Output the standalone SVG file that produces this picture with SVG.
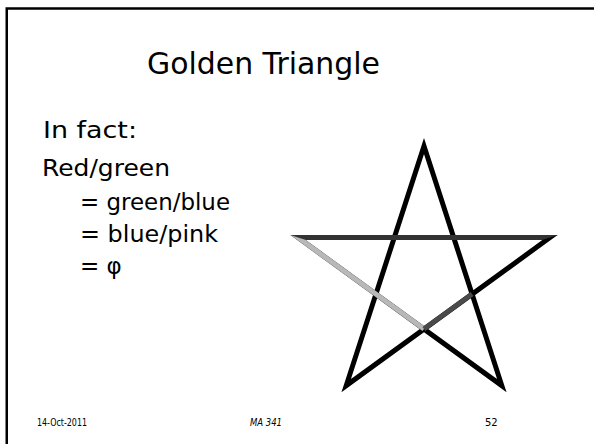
<svg xmlns="http://www.w3.org/2000/svg" width="594" height="444" viewBox="0 0 594 444">
  <style>
    .t { font-family: "DejaVu Sans", "Liberation Sans", sans-serif; fill: #000; }
    .body { font-size: 23px; }
    .foot { font-size: 10px; }
    .star { fill: none; stroke-width: 5; stroke-linejoin: miter; stroke-miterlimit: 10; }
  </style>
  <rect width="594" height="444" fill="#fff"/>
  <g id="border" fill="none" stroke="#000" stroke-width="2.5">
    <path d="M6.75,444 V8.5 H594"/>
  </g>
  <g id="title">
    <text class="t" x="147" y="74" font-size="31" textLength="233" lengthAdjust="spacingAndGlyphs">Golden Triangle</text>
  </g>
  <g id="body-text">
    <text class="t body" x="43" y="138" textLength="94" lengthAdjust="spacingAndGlyphs">In fact:</text>
    <text class="t body" x="42" y="176" textLength="128" lengthAdjust="spacingAndGlyphs">Red/green</text>
    <text class="t body" x="80" y="210" textLength="150" lengthAdjust="spacingAndGlyphs">= green/blue</text>
    <text class="t body" x="80" y="242" textLength="138" lengthAdjust="spacingAndGlyphs">= blue/pink</text>
    <text class="t body" x="80" y="274">= φ</text>
  </g>
  <g id="star">
    <path class="star" stroke="#000" d="M424,146.1 L346.2,385.6 L549.9,237.6 L298.1,237.6 L501.8,385.6 Z"/>
    <path class="star" stroke="#b8b8b8" d="M400,237.6 L298.1,237.6 L424,329.1"/>
    <path class="star" stroke="#4a4a4a" d="M424,329.1 L472.1,294.1"/>
    <polygon fill="#333" points="290.4,235.1 557.6,235.1 542.2,240.1 305.8,240.1"/>
  </g>
  <g id="footer">
    <text class="t foot" x="37" y="426" textLength="50" lengthAdjust="spacingAndGlyphs">14-Oct-2011</text>
    <text class="t foot" x="250" y="426" font-style="italic" textLength="32" lengthAdjust="spacingAndGlyphs">MA 341</text>
    <text class="t foot" x="485" y="426">52</text>
  </g>
</svg>
